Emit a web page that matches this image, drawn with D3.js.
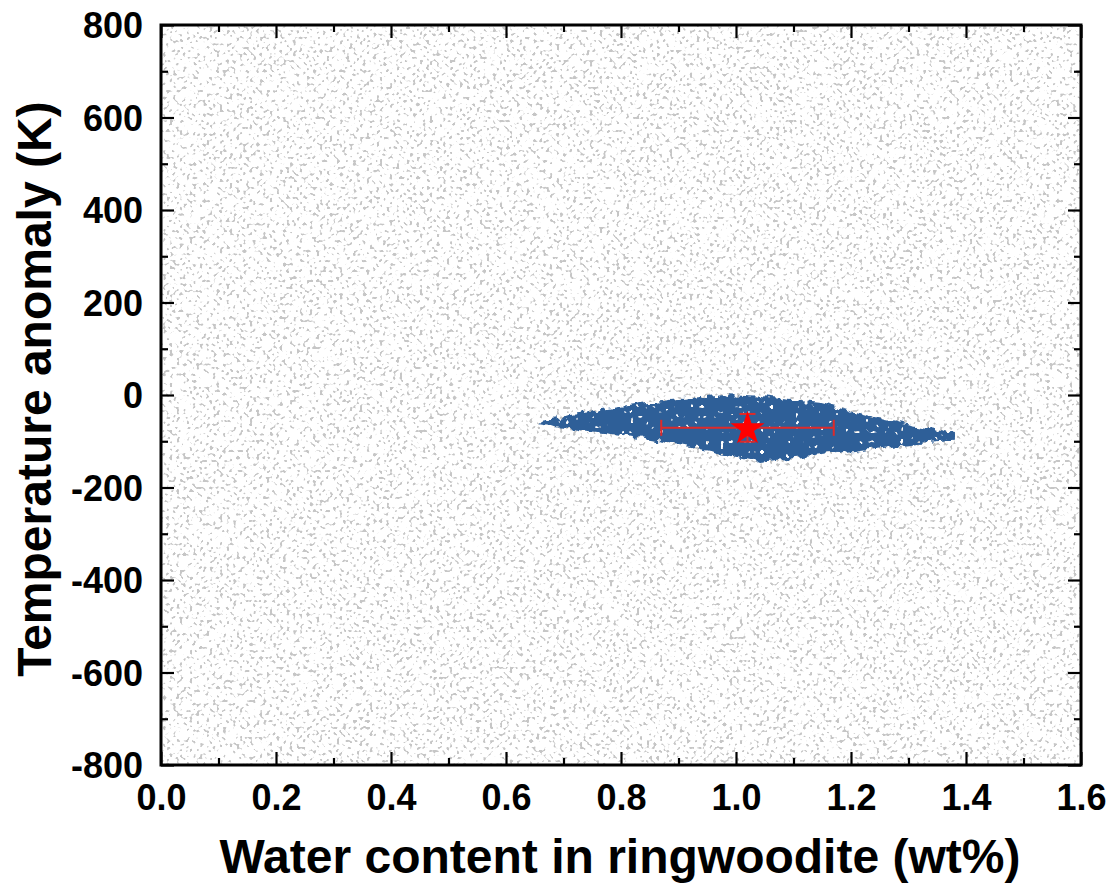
<!DOCTYPE html>
<html>
<head>
<meta charset="utf-8">
<script src="https://cdn.jsdelivr.net/npm/d3@7"></script>
<style>
  html, body { margin: 0; padding: 0; background: #ffffff; }
  svg { display: block; }
  text { font-family: "Liberation Sans", Arial, sans-serif; font-weight: bold; fill: #000; }
</style>
</head>
<body>
<svg id="chart" width="1117" height="883"></svg>
<script>
// ---------------- data ----------------
const xDomain = [0, 1.6];
const yDomain = [-800, 800];
const xMajorTicks = [0, 0.2, 0.4, 0.6, 0.8, 1.0, 1.2, 1.4, 1.6];
const xTickLabels = ["0.0", "0.2", "0.4", "0.6", "0.8", "1.0", "1.2", "1.4", "1.6"];
const xMinorTicks = [0.1, 0.3, 0.5, 0.7, 0.9, 1.1, 1.3, 1.5];
const yMajorTicks = [-800, -600, -400, -200, 0, 200, 400, 600, 800];
const yTickLabels = ["-800", "-600", "-400", "-200", "0", "200", "400", "600", "800"];
const yMinorTicks = [-700, -500, -300, -100, 100, 300, 500, 700];

// prior sampling range (grey cloud covers the whole range)
const priorWater = [0, 1.6];
const priorTemp = [-800, 800];

// outline of the accepted (blue) solution cloud
const clusterWater = [0.658, 0.740, 0.797, 0.884, 0.983, 1.041, 1.145, 1.261, 1.330, 1.379, 1.379, 1.330, 1.261, 1.145, 1.041, 0.914, 0.797, 0.700, 0.658];
const clusterTemp  = [-54,   -38,   -26,   -11,   0,     -4,    -17,   -54,   -70,   -82,   -97,   -102,  -112,  -130,  -145,  -110,  -86,   -72,   -63];

// best estimate with uncertainties
const bestWater = 1.02;
const bestTemp = -71;
const errWater = 0.15;
const errTemp = 30;

const xTitle = "Water content in ringwoodite (wt%)";
const yTitle = "Temperature anomaly (K)";

// ---------------- layout ----------------
const plot = { left: 161, right: 1081, top: 25, bottom: 765 };

const svg = d3.select("#chart");
const x = d3.scaleLinear().domain(xDomain).range([plot.left, plot.right]);
const y = d3.scaleLinear().domain(yDomain).range([plot.bottom, plot.top]);

const defs = svg.append("defs");

function regionFilter(id) {
  return defs.append("filter").attr("id", id)
    .attr("filterUnits", "userSpaceOnUse")
    .attr("color-interpolation-filters", "sRGB")
    .attr("x", plot.left).attr("y", plot.top)
    .attr("width", plot.right - plot.left).attr("height", plot.bottom - plot.top);
}
const alphaFromR = "0 0 0 0 0  0 0 0 0 0  0 0 0 0 0  1 0 0 0 0";

// speckle texture for the grey prior samples
const speck = regionFilter("speckle");
speck.append("feTurbulence").attr("type", "fractalNoise")
  .attr("baseFrequency", 0.3).attr("numOctaves", 1).attr("seed", 7).attr("result", "noise");
speck.append("feColorMatrix").attr("in", "noise").attr("type", "matrix")
  .attr("values", alphaFromR).attr("result", "na");
speck.append("feComponentTransfer").attr("in", "na").attr("result", "mask")
  .append("feFuncA").attr("type", "linear").attr("slope", 12).attr("intercept", -12 * 0.58);
speck.append("feFlood").attr("flood-color", "#c6c6c6").attr("result", "grey");
speck.append("feComposite").attr("in", "grey").attr("in2", "mask").attr("operator", "in");

// rough edges + small gaps for the blue cloud
const rough = regionFilter("rough");
rough.append("feTurbulence").attr("type", "fractalNoise")
  .attr("baseFrequency", 0.12).attr("numOctaves", 2).attr("seed", 3).attr("result", "n1");
rough.append("feDisplacementMap").attr("in", "SourceGraphic").attr("in2", "n1")
  .attr("scale", 10).attr("xChannelSelector", "R").attr("yChannelSelector", "G").attr("result", "shape");
rough.append("feTurbulence").attr("type", "fractalNoise")
  .attr("baseFrequency", 0.2).attr("numOctaves", 1).attr("seed", 11).attr("result", "n2");
rough.append("feColorMatrix").attr("in", "n2").attr("type", "matrix")
  .attr("values", alphaFromR).attr("result", "n2a");
rough.append("feComponentTransfer").attr("in", "n2a").attr("result", "holes")
  .append("feFuncA").attr("type", "linear").attr("slope", 25).attr("intercept", -25 * 0.69);
rough.append("feComposite").attr("in", "shape").attr("in2", "holes").attr("operator", "out");

// ---------------- grey prior cloud ----------------
svg.append("rect")
  .attr("x", x(priorWater[0])).attr("y", y(priorTemp[1]))
  .attr("width", x(priorWater[1]) - x(priorWater[0]))
  .attr("height", y(priorTemp[0]) - y(priorTemp[1]))
  .attr("fill", "#fff")
  .attr("filter", "url(#speckle)");

// ---------------- blue accepted cloud ----------------
const clusterPts = clusterWater.map((w, i) => [x(w), y(clusterTemp[i])]);
svg.append("path")
  .attr("d", d3.line()(clusterPts) + "Z")
  .attr("fill", "#2e5f98")
  .attr("filter", "url(#rough)");

// ---------------- error bars + star ----------------
const errColor = "#de2a2a";
const eb = svg.append("g").attr("stroke", errColor).attr("stroke-width", 2).attr("fill", "none");
eb.append("line").attr("x1", x(bestWater - errWater)).attr("x2", x(bestWater + errWater))
  .attr("y1", y(bestTemp)).attr("y2", y(bestTemp));
[bestWater - errWater, bestWater + errWater].forEach(v => {
  eb.append("line").attr("x1", x(v)).attr("x2", x(v))
    .attr("y1", y(bestTemp) - 8).attr("y2", y(bestTemp) + 8);
});
eb.append("line").attr("x1", x(bestWater)).attr("x2", x(bestWater))
  .attr("y1", y(bestTemp - errTemp)).attr("y2", y(bestTemp + errTemp));
[bestTemp - errTemp, bestTemp + errTemp].forEach(v => {
  eb.append("line").attr("x1", x(bestWater) - 8).attr("x2", x(bestWater) + 8)
    .attr("y1", y(v)).attr("y2", y(v));
});
svg.append("path")
  .attr("d", d3.symbol(d3.symbolStar, 360)())
  .attr("transform", `translate(${x(bestWater)},${y(bestTemp) + 1})`)
  .attr("fill", "#ff0000");

// ---------------- axes ----------------
const major = 13, minor = 7;
function tickAxis(axisFn, scale, ticks, len, labels, transform) {
  const a = axisFn(scale).tickValues(ticks).tickSizeInner(-len).tickSizeOuter(0)
    .tickFormat(labels ? (d, i) => labels[i] : () => "").tickPadding(len + 8);
  const g = svg.append("g").attr("transform", transform).call(a);
  g.select(".domain").remove();
  g.selectAll(".tick line").attr("stroke", "#000").attr("stroke-width", 2.2);
  return g;
}
const gb = tickAxis(d3.axisBottom, x, xMajorTicks, major, xTickLabels, `translate(0,${plot.bottom})`);
gb.selectAll("text").style("font-size", "36px").attr("dy", "0").attr("y", 45);
tickAxis(d3.axisBottom, x, xMinorTicks, minor, null, `translate(0,${plot.bottom})`);
tickAxis(d3.axisTop, x, xMajorTicks, major, null, `translate(0,${plot.top})`);
tickAxis(d3.axisTop, x, xMinorTicks, minor, null, `translate(0,${plot.top})`);
const gl = tickAxis(d3.axisLeft, y, yMajorTicks, major, yTickLabels, `translate(${plot.left},0)`);
gl.selectAll("text").style("font-size", "36px").attr("x", -18).attr("dy", "0.35em");
tickAxis(d3.axisLeft, y, yMinorTicks, minor, null, `translate(${plot.left},0)`);
tickAxis(d3.axisRight, y, yMajorTicks, major, null, `translate(${plot.right},0)`);
tickAxis(d3.axisRight, y, yMinorTicks, minor, null, `translate(${plot.right},0)`);

// frame
svg.append("rect")
  .attr("x", plot.left).attr("y", plot.top)
  .attr("width", plot.right - plot.left).attr("height", plot.bottom - plot.top)
  .attr("fill", "none").attr("stroke", "#000").attr("stroke-width", 3);

// titles
svg.append("text")
  .attr("x", (plot.left + plot.right) / 2 - 1).attr("y", 873)
  .attr("text-anchor", "middle").style("font-size", "48px")
  .text(xTitle);
svg.append("text")
  .attr("transform", `translate(51,${(plot.top + plot.bottom) / 2 - 6}) rotate(-90)`)
  .attr("text-anchor", "middle").style("font-size", "48px")
  .text(yTitle);
</script>
</body>
</html>
